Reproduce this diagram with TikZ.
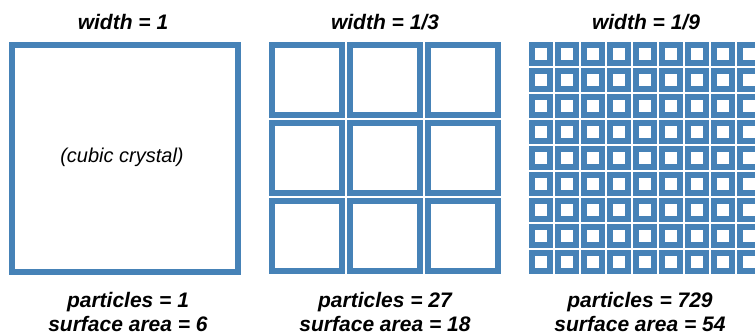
\documentclass[tikz,border=0pt]{standalone}
\usepackage{fontspec}
\setmainfont{Liberation Sans}
\definecolor{crystal}{RGB}{70,130,183}
\begin{document}
\begin{tikzpicture}[x=1pt,y=-1pt,
  cell/.style={draw=crystal,line width=6.2pt},
  heading/.style={font=\fontsize{21}{24}\selectfont\bfseries\itshape,anchor=center,inner sep=0pt},
  caption/.style={font=\fontsize{21}{24}\selectfont\bfseries\itshape,align=center,anchor=center,inner sep=0pt}]
\useasboundingbox (0,0) rectangle (755,336);
\clip (0,0) rectangle (755,336);
\fill[white] (0,0) rectangle (755,336);

% one whole crystal
\draw[cell] (9+3.1,42+3.1) rectangle (241-3.1,275-3.1);
\node[font=\fontsize{20}{24}\selectfont\itshape,inner sep=0pt] (label) at (122,157) {(cubic crystal)};

% cut into 3 x 3
\foreach \i in {0,1,2}
  \foreach \j in {0,1,2}
    \draw[cell] (269+78*\i+3.1,42+78*\j+3.1) rectangle ++(76-6.2,76-6.2);

% cut into 9 x 9
\foreach \i in {0,...,8}
  \foreach \j in {0,...,8}
    \draw[cell] (529+26*\i+3.1,42+26*\j+3.1) rectangle ++(24-6.2,24-6.2);

\node[heading] (w1) at (123,22) {width = 1};
\node[heading] (w3) at (385,22) {width = 1/3};
\node[heading] (w9) at (646,22) {width = 1/9};

\node[caption] (c1) at (128,312) {particles = 1\\surface area = 6};
\node[caption] (c3) at (385,312) {particles = 27\\surface area = 18};
\node[caption] (c9) at (640,312) {particles = 729\\surface area = 54};
\end{tikzpicture}
\end{document}
